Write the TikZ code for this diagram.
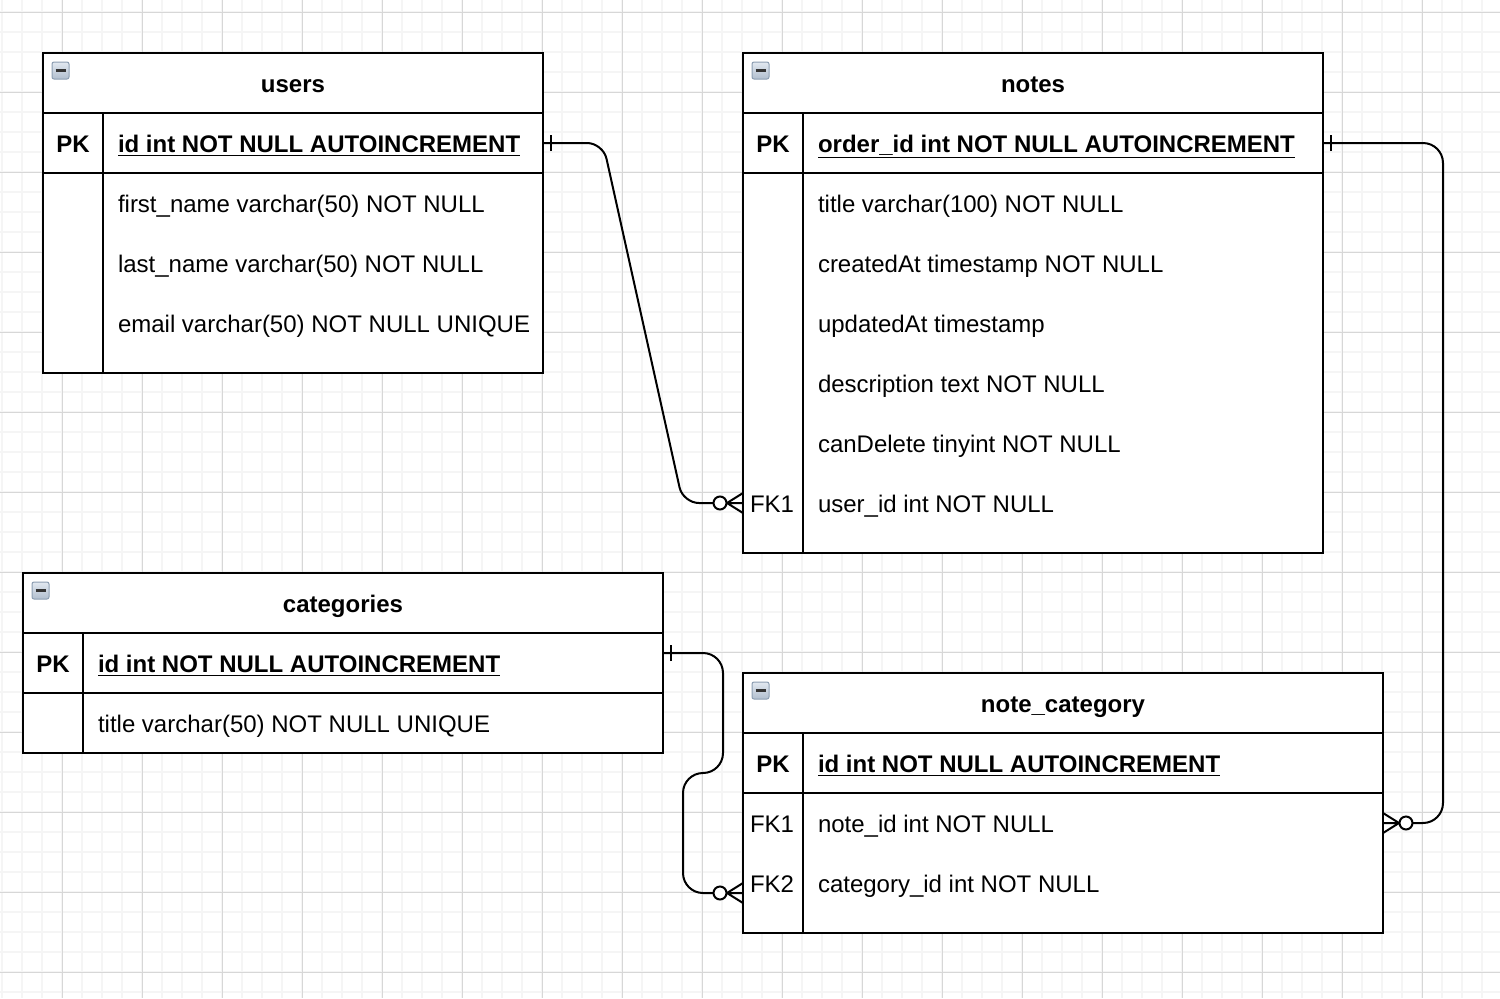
\documentclass[tikz,border=0pt]{standalone}
\usepackage{fontspec}
\setmainfont{Liberation Sans}
\usetikzlibrary{calc}

\tikzset{every picture/.style={line width=1pt}}
\tikzset{
  minorgrid/.style={line width=1pt, draw={rgb,255:red,245;green,245;blue,245}},
  majorgrid/.style={line width=0.5pt, draw={rgb,255:red,215;green,215;blue,215}},
  tablebox/.style={draw, fill=white},
  tabletitle/.style={anchor=base, inner sep=0pt, font=\fontsize{12}{14}\selectfont\bfseries},
  keylabel/.style={anchor=base, inner sep=0pt},
  field/.style={anchor=base west, inner sep=0pt},
  collapse/.style={draw={rgb,255:red,140;green,158;blue,178}, line width=0.5pt, rounded corners=1pt,
    top color={rgb,255:red,226;green,232;blue,240}, bottom color={rgb,255:red,176;green,190;blue,206}},
  onemark/.pic={\draw (8,-8) -- (8,8);},
  zeromany/.pic={\draw (0,-10) -- (-16,0) -- (0,10) (0,0) -- (-16,0);
    \draw [fill=white] (-23,0) circle (3.25pt);},
}

\begin{document}
\begin{tikzpicture}[x=0.5pt,y=0.5pt,yscale=-1,xscale=1,font=\fontsize{12}{14}\selectfont]
	\useasboundingbox (0,0) rectangle (1500,998);
	\fill [white] (0,0) rectangle (1500,998);

	% grid
	\foreach \x in {2,22,...,1500} \draw [minorgrid] (\x,0) -- (\x,998);
	\foreach \y in {12,32,...,998} \draw [minorgrid] (0,\y) -- (1500,\y);
	\foreach \x in {62,142,...,1500} \draw [majorgrid] (\x,0) -- (\x,998);
	\foreach \y in {12,92,...,998} \draw [majorgrid] (0,\y) -- (1500,\y);

	% users
	\draw [tablebox] (43,53) rectangle (543,373);
	\draw (43,113) -- (543,113) (43,173) -- (543,173) (103,113) -- (103,373);
	\draw [collapse] (52,62) rectangle (69,79);
	\draw [line width=1.5pt, black!80] (55.5,70.5) -- (65.5,70.5);
	\node [tabletitle] (users_title) at (293,92) {users};
	\node [keylabel] (users_pklabel) at (73,152) {\textbf{PK}};
	\node [field] (users_id) at (117,152) {\textbf{\underline{id int NOT NULL AUTOINCREMENT}}};
	\node [field] (users_first) at (117,212) {first\_name varchar(50) NOT NULL};
	\node [field] (users_last) at (117,272) {last\_name varchar(50) NOT NULL};
	\node [field] (users_email) at (117,332) {email varchar(50) NOT NULL UNIQUE};
	\coordinate (users_pk) at (543,143);

	% notes
	\draw [tablebox] (743,53) rectangle (1323,553);
	\draw (743,113) -- (1323,113) (743,173) -- (1323,173) (803,113) -- (803,553);
	\draw [collapse] (752,62) rectangle (769,79);
	\draw [line width=1.5pt, black!80] (755.5,70.5) -- (765.5,70.5);
	\node [tabletitle] (notes_title) at (1033,92) {notes};
	\node [keylabel] (notes_pklabel) at (773,152) {\textbf{PK}};
	\node [field] (notes_id) at (817,152) {\textbf{\underline{order\_id int NOT NULL AUTOINCREMENT}}};
	\node [field] (notes_title_f) at (817,212) {title varchar(100) NOT NULL};
	\node [field] (notes_created) at (817,272) {createdAt timestamp NOT NULL};
	\node [field] (notes_updated) at (817,332) {updatedAt timestamp};
	\node [field] (notes_desc) at (817,392) {description text NOT NULL};
	\node [field] (notes_candelete) at (817,452) {canDelete tinyint NOT NULL};
	\node [keylabel] (notes_fklabel) at (772,512) {FK1};
	\node [field] (notes_user) at (817,512) {user\_id int NOT NULL};
	\coordinate (notes_pk) at (1323,143);
	\coordinate (notes_fk1) at (743,503);

	% categories
	\draw [tablebox] (23,573) rectangle (663,753);
	\draw (23,633) -- (663,633) (23,693) -- (663,693) (83,633) -- (83,753);
	\draw [collapse] (32,582) rectangle (49,599);
	\draw [line width=1.5pt, black!80] (35.5,590.5) -- (45.5,590.5);
	\node [tabletitle] (cat_title) at (343,612) {categories};
	\node [keylabel] (cat_pklabel) at (53,672) {\textbf{PK}};
	\node [field] (cat_id) at (97,672) {\textbf{\underline{id int NOT NULL AUTOINCREMENT}}};
	\node [field] (cat_title_f) at (97,732) {title varchar(50) NOT NULL UNIQUE};
	\coordinate (cat_pk) at (663,653);

	% note_category
	\draw [tablebox] (743,673) rectangle (1383,933);
	\draw (743,733) -- (1383,733) (743,793) -- (1383,793) (803,733) -- (803,933);
	\draw [collapse] (752,682) rectangle (769,699);
	\draw [line width=1.5pt, black!80] (755.5,690.5) -- (765.5,690.5);
	\node [tabletitle] (nc_title) at (1063,712) {note\_category};
	\node [keylabel] (nc_pklabel) at (773,772) {\textbf{PK}};
	\node [field] (nc_id) at (817,772) {\textbf{\underline{id int NOT NULL AUTOINCREMENT}}};
	\node [keylabel] (nc_fk1label) at (772,832) {FK1};
	\node [field] (nc_note) at (817,832) {note\_id int NOT NULL};
	\node [keylabel] (nc_fk2label) at (772,892) {FK2};
	\node [field] (nc_cat) at (817,892) {category\_id int NOT NULL};
	\coordinate (nc_fk1) at (1383,823);
	\coordinate (nc_fk2) at (743,893);

	% relations
	\draw [rounded corners=8pt] (users_pk) -- (603,143) -- (683,503) -- ($(notes_fk1)+(-30,0)$);
	\draw [rounded corners=10pt] (notes_pk) -- (1443,143) -- (1443,823) -- ($(nc_fk1)+(30,0)$);
	\draw [rounded corners=10pt] (cat_pk) -- (723,653) -- (723,773) -- (683,773) -- (683,893) -- ($(nc_fk2)+(-30,0)$);

	\pic at (users_pk) {onemark};
	\pic at (notes_pk) {onemark};
	\pic at (cat_pk) {onemark};
	\pic at (notes_fk1) {zeromany};
	\pic at (nc_fk2) {zeromany};
	\pic [xscale=-1] at (nc_fk1) {zeromany};
\end{tikzpicture}
\end{document}
